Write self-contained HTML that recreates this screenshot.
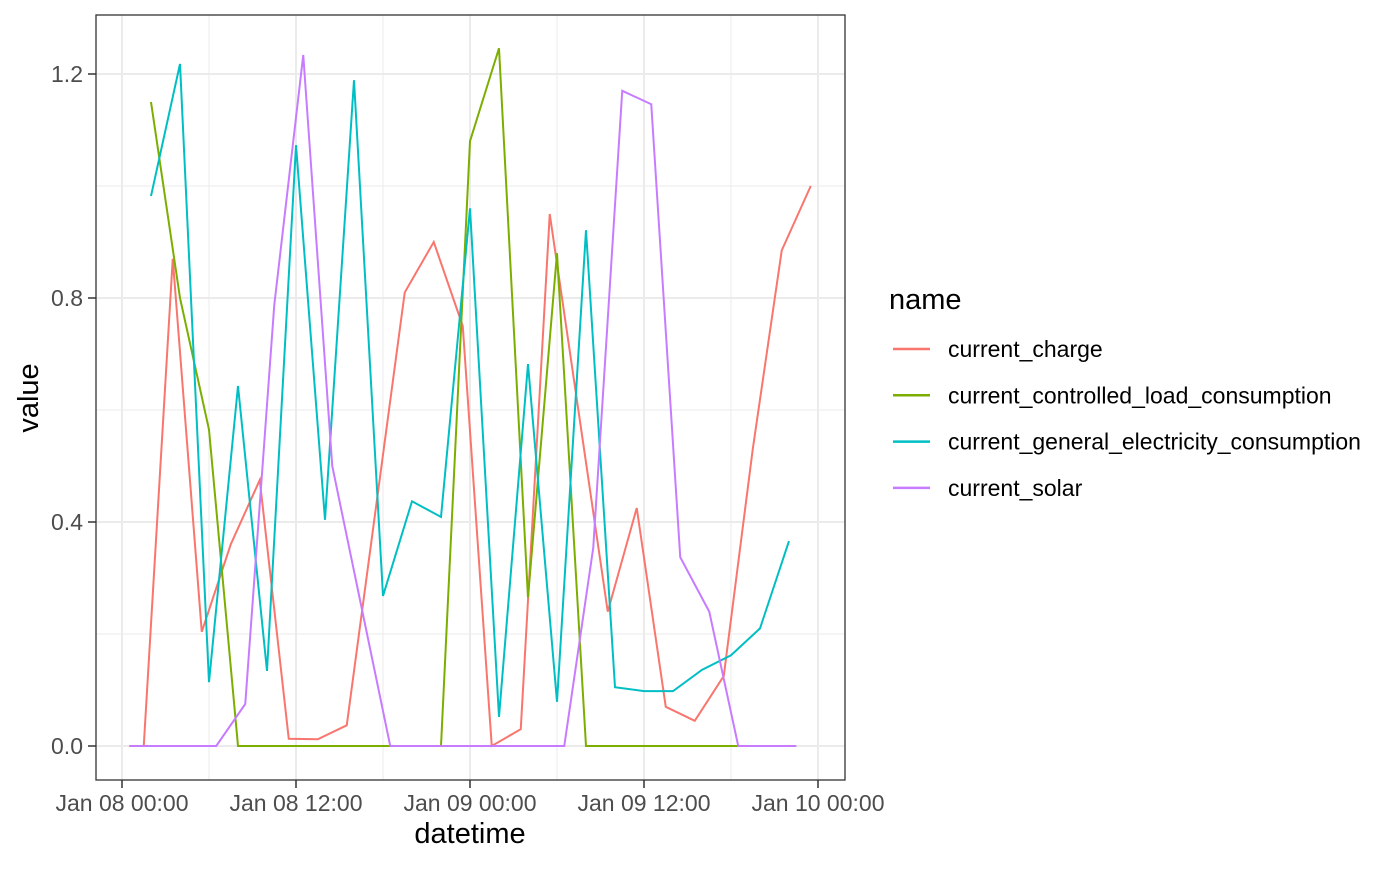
<!DOCTYPE html>
<html><head><meta charset="utf-8"><style>
body{margin:0;background:#fff;font-family:"Liberation Sans",Arial,sans-serif}
svg text{font-family:"Liberation Sans",Arial,sans-serif}
</style></head><body>
<svg id="chart" width="1400" height="865" viewBox="0 0 1400 865" xmlns="http://www.w3.org/2000/svg"></svg>
<script>
// hours since Jan 08 00:00
const chargeHours=[1.5,3.5,5.5,7.5,9.5,11.5,13.5,15.5,19.5,21.5,23.5,25.5,27.5,29.5,33.5,35.5,37.5,39.5,41.5,43.5,45.5,47.5];
const chargeValues=[0,0.87,0.204,0.36,0.475,0.013,0.012,0.037,0.81,0.90,0.75,0,0.03,0.95,0.24,0.425,0.07,0.045,0.125,0.53,0.885,1.0];
const controlledHours=[2,4,6,8,10,12,14,16,18,20,22,24,26,28,30,32,34,36,38,40,42,44,46.5];
const controlledValues=[1.15,0.8,0.565,0,0,0,0,0,0,0,0,1.08,1.246,0.265,0.88,0,0,0,0,0,0,0,0];
const generalHours=[2,4,6,8,10,12,14,16,18,20,22,24,26,28,30,32,34,36,38,40,42,44,46];
const generalValues=[0.982,1.218,0.114,0.643,0.134,1.073,0.404,1.189,0.268,0.437,0.409,0.96,0.052,0.682,0.079,0.921,0.105,0.098,0.098,0.136,0.162,0.21,0.366];
const solarHours=[0.5,2.5,4.5,6.5,8.5,10.5,12.5,14.5,16.5,18.5,20.5,22.5,24.5,26.5,28.5,30.5,32.5,34.5,36.5,38.5,40.5,42.5,44.5,46.5];
const solarValues=[0,0,0,0,0.075,0.787,1.234,0.5,0.25,0,0,0,0,0,0,0,0.354,1.17,1.146,0.337,0.24,0,0,0];
const yTicks=[0,0.4,0.8,1.2];
const yTickLabels=["0.0","0.4","0.8","1.2"];
const yMinor=[0.2,0.6,1.0];
const xTicks=[0,12,24,36,48];
const xTickLabels=["Jan 08 00:00","Jan 08 12:00","Jan 09 00:00","Jan 09 12:00","Jan 10 00:00"];
const xMinor=[6,18,30,42];
const seriesNames=["current_charge","current_controlled_load_consumption","current_general_electricity_consumption","current_solar"];
const seriesColors=["#F8766D","#7CAE00","#00BFC4","#C77CFF"];

const NS="http://www.w3.org/2000/svg";
const svg=document.getElementById('chart');
const L=96,R=845,T=15,B=780;
const xs=h=>122+h*14.5;
const ys=v=>746-v*560;
function mk(tag,attrs,parent){const e=document.createElementNS(NS,tag);for(const k in attrs)e.setAttribute(k,attrs[k]);(parent||svg).appendChild(e);return e;}

const grid=mk('g',{});


yMinor.forEach(v=>mk('line',{x1:L,x2:R,y1:ys(v),y2:ys(v),stroke:'#EBEBEB','stroke-width':1},grid));
xMinor.forEach(h=>mk('line',{x1:xs(h),x2:xs(h),y1:T,y2:B,stroke:'#EBEBEB','stroke-width':1},grid));
yTicks.forEach(v=>mk('line',{x1:L,x2:R,y1:ys(v),y2:ys(v),stroke:'#EBEBEB','stroke-width':2},grid));
xTicks.forEach(h=>mk('line',{x1:xs(h),x2:xs(h),y1:T,y2:B,stroke:'#EBEBEB','stroke-width':2},grid));

const datasets=[[chargeHours,chargeValues],[controlledHours,controlledValues],[generalHours,generalValues],[solarHours,solarValues]];
datasets.forEach((d,i)=>{
  const p=mk('polyline',{points:d[0].map((h,j)=>xs(h)+','+ys(d[1][j])).join(' '),fill:'none',stroke:seriesColors[i],'stroke-width':2});
  
  
});

const border=mk('rect',{x:L,y:T,width:R-L,height:B-T,fill:'none',stroke:'#333','stroke-width':1.3});



const yax=mk('g',{});


yTicks.forEach((v,i)=>{
  mk('line',{x1:L-8,x2:L,y1:ys(v),y2:ys(v),stroke:'#333','stroke-width':1.5},yax);
  const t=mk('text',{x:L-13,y:ys(v)+8,'text-anchor':'end','font-size':23,fill:'#4D4D4D'},yax);t.textContent=yTickLabels[i];
});
const xax=mk('g',{});


xTicks.forEach((h,i)=>{
  mk('line',{x1:xs(h),x2:xs(h),y1:B,y2:B+8,stroke:'#333','stroke-width':1.5},xax);
  const t=mk('text',{x:xs(h),y:B+31,'text-anchor':'middle','font-size':23,fill:'#4D4D4D'},xax);t.textContent=xTickLabels[i];
});
const xt=mk('text',{x:470,y:843,'text-anchor':'middle','font-size':29,fill:'#000'});xt.textContent='datetime';


const yt=mk('text',{x:38,y:398,'text-anchor':'middle','font-size':29,fill:'#000',transform:'rotate(-90 38 398)'});yt.textContent='value';



const lg=mk('g',{});


const lt=mk('text',{x:889,y:309,'font-size':29,fill:'#000'},lg);lt.textContent='name';
seriesNames.forEach((n,i)=>{
  const y=349+i*46.3;
  const e=mk('g',{},lg);
  
  
  mk('line',{x1:893,x2:930,y1:y,y2:y,stroke:seriesColors[i],'stroke-width':2.5},e);
  const t=mk('text',{x:948,y:y+8,'font-size':23,fill:'#000'},e);t.textContent=n;
});
</script>
</body></html>
